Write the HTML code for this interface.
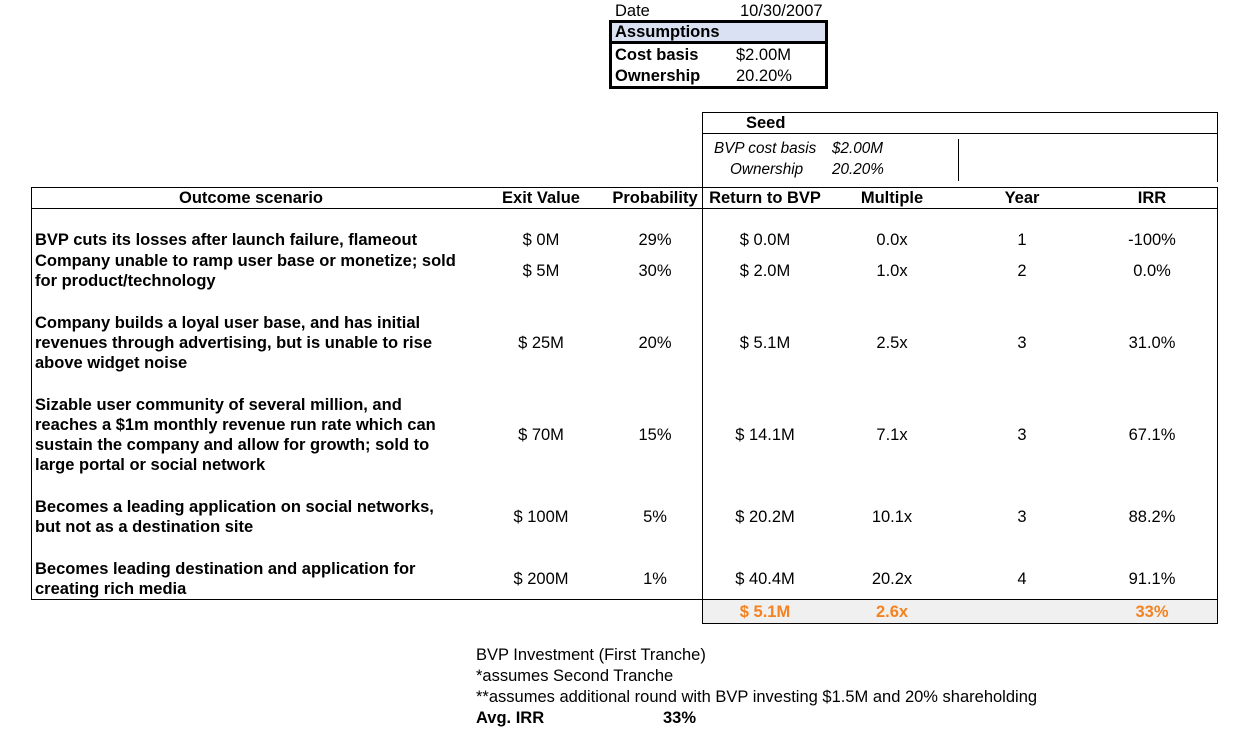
<!DOCTYPE html>
<html><head><meta charset="utf-8"><style>
body{margin:0;width:1243px;height:739px;background:#fff;position:relative;overflow:hidden;font-family:"Liberation Sans",Arial,sans-serif;font-size:16.5px;color:#000}
.a{position:absolute;white-space:nowrap;line-height:18px}
.c{transform:translateX(-50%)}
.b{font-weight:bold}
.i{font-style:italic;font-size:15.3px}
.l{position:absolute;background:#000}
.o{color:#f58220;font-weight:bold}
</style></head><body>
<div class="a" style="left:615px;top:2px">Date</div>
<div class="a" style="left:740px;top:2px">10/30/2007</div>
<div style="position:absolute;left:609px;top:20px;width:213px;height:63px;border:3px solid #000"></div>
<div style="position:absolute;left:612px;top:23px;width:213px;height:18px;background:#d9e1f2"></div>
<div class="l" style="left:609px;top:41px;width:219px;height:3px"></div>
<div class="a b" style="left:615px;top:23px">Assumptions</div>
<div class="a b" style="left:615px;top:46px">Cost basis</div>
<div class="a" style="left:736px;top:46px">$2.00M</div>
<div class="a b" style="left:615px;top:67px">Ownership</div>
<div class="a" style="left:736px;top:67px">20.20%</div>

<div class="l" style="left:702px;top:112px;width:516px;height:1px"></div>
<div class="l" style="left:702px;top:133px;width:516px;height:1px"></div>
<div class="l" style="left:1217px;top:112px;width:1px;height:70px"></div>
<div class="l" style="left:958px;top:139px;width:1px;height:42px"></div>
<div class="a b" style="left:746px;top:114px">Seed</div>
<div class="a i" style="left:714px;top:140px">BVP cost basis</div>
<div class="a i" style="left:832px;top:140px">$2.00M</div>
<div class="a i" style="left:730px;top:161px">Ownership</div>
<div class="a i" style="left:832px;top:161px">20.20%</div>

<div class="l" style="left:31px;top:187px;width:1187px;height:1px"></div>
<div class="l" style="left:31px;top:208px;width:1187px;height:1px"></div>
<div class="l" style="left:31px;top:599px;width:1187px;height:1px"></div>
<div class="l" style="left:31px;top:187px;width:1px;height:413px"></div>
<div class="l" style="left:702px;top:112px;width:1px;height:512px"></div>
<div class="l" style="left:1217px;top:187px;width:1px;height:437px"></div>
<div style="position:absolute;left:703px;top:600px;width:514px;height:23px;background:#f0f0f0"></div>
<div class="l" style="left:702px;top:623px;width:516px;height:1px"></div>

<div class="a b c" style="left:251px;top:189px">Outcome scenario</div>
<div class="a b c" style="left:541px;top:189px">Exit Value</div>
<div class="a b c" style="left:655px;top:189px">Probability</div>
<div class="a b c" style="left:765px;top:189px">Return to BVP</div>
<div class="a b c" style="left:892px;top:189px">Multiple</div>
<div class="a b c" style="left:1022px;top:189px">Year</div>
<div class="a b c" style="left:1152px;top:189px">IRR</div>

<div class="a b" style="left:35px;top:230px;line-height:20px">BVP cuts its losses after launch failure, flameout</div>
<div class="a b" style="left:35px;top:251px;line-height:20px">Company unable to ramp user base or monetize; sold<br>for product/technology</div>
<div class="a b" style="left:35px;top:313px;line-height:20px">Company builds a loyal user base, and has initial<br>revenues through advertising, but is unable to rise<br>above widget noise</div>
<div class="a b" style="left:35px;top:395px;line-height:20px">Sizable user community of several million, and<br>reaches a $1m monthly revenue run rate which can<br>sustain the company and allow for growth; sold to<br>large portal or social network</div>
<div class="a b" style="left:35px;top:497px;line-height:20px">Becomes a leading application on social networks,<br>but not as a destination site</div>
<div class="a b" style="left:35px;top:559px;line-height:20px">Becomes leading destination and application for<br>creating rich media</div>

<div class="a c" style="left:541px;top:231px">$ 0M</div><div class="a c" style="left:655px;top:231px">29%</div><div class="a c" style="left:765px;top:231px">$ 0.0M</div><div class="a c" style="left:892px;top:231px">0.0x</div><div class="a c" style="left:1022px;top:231px">1</div><div class="a c" style="left:1152px;top:231px">-100%</div>
<div class="a c" style="left:541px;top:262px">$ 5M</div><div class="a c" style="left:655px;top:262px">30%</div><div class="a c" style="left:765px;top:262px">$ 2.0M</div><div class="a c" style="left:892px;top:262px">1.0x</div><div class="a c" style="left:1022px;top:262px">2</div><div class="a c" style="left:1152px;top:262px">0.0%</div>
<div class="a c" style="left:541px;top:334px">$ 25M</div><div class="a c" style="left:655px;top:334px">20%</div><div class="a c" style="left:765px;top:334px">$ 5.1M</div><div class="a c" style="left:892px;top:334px">2.5x</div><div class="a c" style="left:1022px;top:334px">3</div><div class="a c" style="left:1152px;top:334px">31.0%</div>
<div class="a c" style="left:541px;top:426px">$ 70M</div><div class="a c" style="left:655px;top:426px">15%</div><div class="a c" style="left:765px;top:426px">$ 14.1M</div><div class="a c" style="left:892px;top:426px">7.1x</div><div class="a c" style="left:1022px;top:426px">3</div><div class="a c" style="left:1152px;top:426px">67.1%</div>
<div class="a c" style="left:541px;top:508px">$ 100M</div><div class="a c" style="left:655px;top:508px">5%</div><div class="a c" style="left:765px;top:508px">$ 20.2M</div><div class="a c" style="left:892px;top:508px">10.1x</div><div class="a c" style="left:1022px;top:508px">3</div><div class="a c" style="left:1152px;top:508px">88.2%</div>
<div class="a c" style="left:541px;top:570px">$ 200M</div><div class="a c" style="left:655px;top:570px">1%</div><div class="a c" style="left:765px;top:570px">$ 40.4M</div><div class="a c" style="left:892px;top:570px">20.2x</div><div class="a c" style="left:1022px;top:570px">4</div><div class="a c" style="left:1152px;top:570px">91.1%</div>

<div class="a c o" style="left:765px;top:603px">$ 5.1M</div>
<div class="a c o" style="left:892px;top:603px">2.6x</div>
<div class="a c o" style="left:1152px;top:603px">33%</div>

<div class="a" style="left:476px;top:646px">BVP Investment (First Tranche)</div>
<div class="a" style="left:476px;top:667px">*assumes Second Tranche</div>
<div class="a" style="left:476px;top:688px">**assumes additional round with BVP investing $1.5M and 20% shareholding</div>
<div class="a b" style="left:476px;top:709px">Avg. IRR</div>
<div class="a b" style="left:663px;top:709px">33%</div>
</body></html>
